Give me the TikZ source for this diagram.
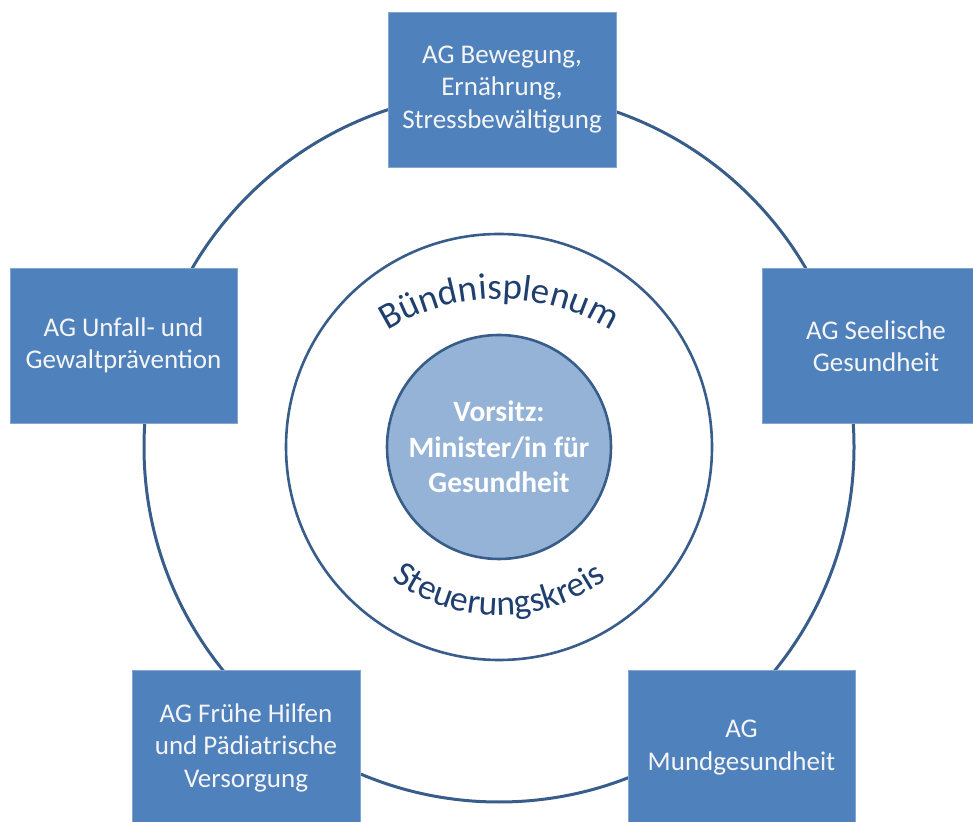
\documentclass[tikz,border=0pt]{standalone}
\usepackage{fontspec}
\setmainfont{Carlito}
\usetikzlibrary{decorations.text}
\definecolor{boxblue}{HTML}{4F81BD}
\definecolor{ringblue}{HTML}{385D8A}
\definecolor{corefill}{HTML}{95B3D7}
\definecolor{labelblue}{HTML}{1F3F6E}
\newcommand\arcfont{\fontsize{35.5}{40}\selectfont}
\newcommand\arcfonttop{\fontsize{37}{42}\selectfont}
\begin{document}
\begin{tikzpicture}[x=1pt,y=1pt,
  agbox/.style={rectangle, fill=boxblue, draw=boxblue!70!white, line width=0.8pt,
    minimum width=228pt, minimum height=155pt, inner sep=0pt, text=white!96!black,
    align=center, font=\fontsize{27}{32.5}\selectfont},
  ring/.style={circle, draw=ringblue, inner sep=0pt},
  arclabel/.style={decorate, decoration={text along path, text align=center,
    text color=labelblue}}]
\path[use as bounding box, clip] (0,0) rectangle (973,821);
\node[ring, line width=3pt, minimum size=710pt] (outer) at (499,374) {};
\node[ring, line width=2.6pt, minimum size=426pt] (middle) at (499,374) {};
\node[ring, line width=2.6pt, fill=corefill, minimum size=224pt, text=white,
  align=center, font=\fontsize{29.5}{35.5}\selectfont\bfseries] (core) at (499,374)
  {Vorsitz:\\Minister/in für\\Gesundheit};
\path[arclabel, decoration={text={|\arcfonttop|Bündnisplenum}}]
  (499,311) ++(130:211) arc[start angle=130, end angle=50, radius=211];
\path[arclabel, decoration={text={|\arcfont|Steuerungskreis}}]
  (499,386) ++(225:180) arc[start angle=225, end angle=315, radius=180];
\node[agbox] (bewegung) at (502,731.5) {AG Bewegung,\\Ernährung,\\Stressbewältigung};
\node[agbox, minimum width=227pt] (unfall) at (123.5,475.5) {AG Unfall- und\\Gewaltprävention};
\node[agbox] (seele) at (876,475) {AG Seelische\\Gesundheit};
\node[agbox] (fruehe) at (246,73.5) {AG Frühe Hilfen\\und Pädiatrische\\Versorgung};
\node[agbox, minimum width=227pt] (mund) at (741.5,73.5) {AG\\Mundgesundheit};
\end{tikzpicture}
\end{document}
